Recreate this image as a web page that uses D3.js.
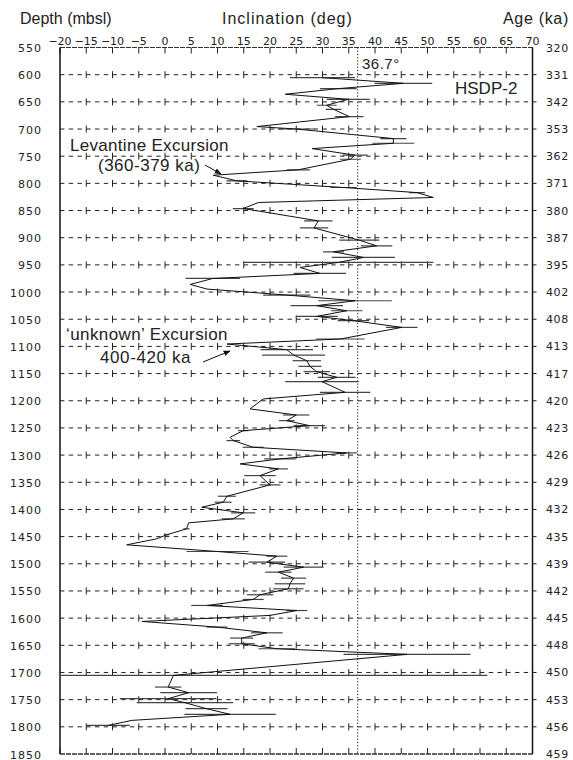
<!DOCTYPE html>
<html>
<head>
<meta charset="utf-8">
<script src="https://cdn.jsdelivr.net/npm/d3@7"></script>
<style>
  html, body { margin: 0; padding: 0; background: #fff; }
  svg { display: block; }
  .num { font-family: "DejaVu Sans", sans-serif; font-size: 11px; fill: #222; }
  .lbl { font-family: "Liberation Sans", Arial, sans-serif; fill: #222; }
</style>
</head>
<body>
<svg id="chart" width="573" height="760"></svg>
<script>
// Depth ticks (mbsl) on the left axis and matching ages (ka) on the right axis
const depthTicks = [550, 600, 650, 700, 750, 800, 850, 900, 950, 1000, 1050, 1100, 1150,
  1200, 1250, 1300, 1350, 1400, 1450, 1500, 1550, 1600, 1650, 1700, 1750, 1800, 1850];
const ageLabels = [320, 331, 342, 353, 362, 371, 380, 387, 395, 402, 408, 413, 417,
  420, 423, 426, 429, 432, 435, 439, 442, 445, 448, 450, 453, 456, 459];
const inclTicks = d3.range(-20, 71, 5);

// Paleomagnetic inclination record, HSDP-2 core
const depth = [605.5, 615.9, 625.7, 636.0, 645.3, 656.3, 663.7, 677.1, 695.5, 700.0,
  717.6, 726.2, 736.0, 748.2, 755.6, 775.0, 785.0, 795.4, 807.6, 817.0,
  826.0, 835.2, 846.3, 869.0, 882.0, 904.5, 914.9, 925.9, 936.3, 945.5,
  954.7, 965.7, 975.0, 986.0, 994.5, 1005.5, 1016.0, 1025.0, 1034.4, 1044.8,
  1052.7, 1065.0, 1086.4, 1095.6, 1106.0, 1115.9, 1126.3, 1136.7, 1146.5, 1156.9,
  1164.9, 1184.5, 1196.7, 1215.0, 1226.2, 1236.6, 1245.8, 1255.0, 1267.2, 1273.3,
  1285.6, 1296.0, 1307.0, 1316.2, 1325.4, 1337.7, 1354.8, 1375.7, 1386.7, 1395.9,
  1406.3, 1417.3, 1424.7, 1435.7, 1446.7, 1454.1, 1465.1, 1477.4, 1486.0, 1497.0,
  1506.2, 1515.4, 1526.4, 1536.8, 1546.0, 1557.0, 1565.6, 1576.7, 1586.0, 1595.0,
  1606.1, 1616.5, 1627.0, 1636.7, 1647.1, 1656.3, 1666.7, 1705.3, 1726.8, 1737.2,
  1748.2, 1755.6, 1766.6, 1777.0, 1788.1, 1797.3];
const inclination = [30.0, 45.4, 33.0, 22.9, 34.9, 30.8, 32.1, 35.1, 17.5, 25.0,
  43.5, 43.5, 28.0, 36.2, 35.3, 25.4, 9.2, 13.7, 34.0, 48.0,
  51.1, 17.8, 14.9, 29.2, 28.4, 37.0, 40.3, 32.1, 37.8, 33.0,
  25.7, 29.5, 9.1, 4.8, 8.0, 23.2, 36.2, 28.9, 34.6, 28.9,
  35.9, 45.1, 33.4, 11.8, 23.2, 24.5, 27.0, 27.6, 28.9, 32.7,
  29.9, 34.3, 18.7, 16.2, 25.0, 23.2, 27.5, 14.9, 12.4, 13.0,
  16.8, 34.6, 21.9, 14.3, 21.6, 18.1, 20.0, 11.8, 11.1, 7.0,
  14.9, 13.0, 4.5, 4.1, 0.3, -1.6, -7.3, 10.0, 21.3, 19.4,
  26.4, 21.6, 24.5, 23.8, 23.5, 18.1, 16.8, 8.0, 25.1, 20.0,
  -4.4, 9.9, 19.4, 14.6, 14.6, 21.3, 46.1, 1.6, 0.6, 4.5,
  0.6, 3.8, 7.9, 12.4, -6.3, -10.8];
// Half-width of the horizontal error bar (deg); 0 where none is drawn
const errorDeg = [6.2, 5.5, 3.5, 0, 4.1, 1.9, 1.5, 2.7, 0, 3.5,
  2.5, 4.0, 0, 2.4, 2.0, 2.2, 0, 2.0, 2.5, 1.5,
  0, 0, 2.0, 2.7, 2.7, 3.8, 3.0, 2.0, 6.0, 18.1,
  0, 5.0, 5.2, 0, 0, 4.5, 7.0, 5.0, 3.0, 4.0,
  3.0, 3.0, 4.6, 0, 5.0, 6.0, 2.7, 2.2, 2.5, 3.6,
  7.0, 4.8, 0, 0, 2.5, 1.5, 3.0, 1.0, 0, 1.3,
  2.0, 2.0, 3.0, 0, 1.8, 3.0, 2.0, 1.7, 1.6, 0,
  2.3, 2.2, 0, 0.6, 0.5, 0, 0, 5.9, 2.0, 3.5,
  3.8, 2.5, 2.4, 2.9, 2.9, 2.5, 2.0, 3.0, 2.0, 0,
  0, 2.0, 3.0, 2.2, 2.5, 3.5, 12.1, 59.8, 2.5, 5.4,
  9.2, 9.2, 4.0, 8.7, 0, 4.1];

const referenceIncl = 36.7;   // axial dipole inclination at the site

const svg = d3.select("#chart");
const pLeft = 60, pRight = 532.5, pTop = 47.5, pBottom = 754;

const x = d3.scaleLinear().domain([-20, 70]).range([pLeft, pRight]);
const y = d3.scaleLinear().domain([550, 1850]).range([pTop, pBottom]);

const defs = svg.append("defs");
defs.append("clipPath").attr("id", "plotClip")
  .append("rect").attr("x", pLeft).attr("y", pTop)
  .attr("width", pRight - pLeft).attr("height", pBottom - pTop);
defs.append("marker").attr("id", "arrow").attr("viewBox", "0 0 10 10")
  .attr("refX", 9).attr("refY", 5).attr("markerWidth", 7).attr("markerHeight", 7)
  .attr("orient", "auto")
  .append("path").attr("d", "M0,1 L10,5 L0,9 Z").attr("fill", "#111");

const plot = svg.append("g");

// Dashed depth gridlines with small ticks every 5 degrees
const inner = depthTicks.slice(1, -1);
const grid = plot.append("g");
grid.selectAll("line.g").data(inner).join("line")
  .attr("x1", pLeft).attr("x2", pRight + 4)
  .attr("y1", d => y(d)).attr("y2", d => y(d))
  .attr("stroke", "#222").attr("stroke-width", 1)
  .attr("stroke-dasharray", "4.4,4.35");
inner.forEach(d => {
  grid.append("g").selectAll("line").data(inclTicks.slice(1, -1)).join("line")
    .attr("x1", v => x(v)).attr("x2", v => x(v))
    .attr("y1", y(d) - 3.5).attr("y2", y(d) + 3.5)
    .attr("stroke", "#222").attr("stroke-width", 1);
});

// Frame: top and bottom lines with inward ticks, solid side axes
plot.append("line").attr("x1", pLeft).attr("x2", pRight).attr("y1", pTop).attr("y2", pTop)
  .attr("stroke", "#333").attr("stroke-width", 1.2).attr("stroke-dasharray", "5,1");
plot.append("line").attr("x1", pLeft).attr("x2", pRight).attr("y1", pBottom).attr("y2", pBottom)
  .attr("stroke", "#333").attr("stroke-width", 1.4).attr("stroke-dasharray", "5,1");
plot.append("g").selectAll("line").data(inclTicks).join("line")
  .attr("x1", v => x(v)).attr("x2", v => x(v))
  .attr("y1", pTop).attr("y2", pTop + 6).attr("stroke", "#222");
plot.append("g").selectAll("line").data(inclTicks).join("line")
  .attr("x1", v => x(v)).attr("x2", v => x(v))
  .attr("y1", pBottom).attr("y2", pBottom - 6).attr("stroke", "#222");
plot.append("line").attr("x1", pLeft).attr("x2", pLeft).attr("y1", pTop).attr("y2", pBottom)
  .attr("stroke", "#111").attr("stroke-width", 1.5);
plot.append("line").attr("x1", pRight).attr("x2", pRight).attr("y1", pTop).attr("y2", pBottom)
  .attr("stroke", "#111").attr("stroke-width", 1.5);

// Reference inclination
plot.append("line").attr("x1", x(referenceIncl)).attr("x2", x(referenceIncl))
  .attr("y1", pTop).attr("y2", pBottom)
  .attr("stroke", "#111").attr("stroke-width", 1).attr("stroke-dasharray", "1.2,2");

// Data: error bars then the inclination curve
const pts = depth.map((d, i) => ({ d, v: inclination[i], e: errorDeg[i] }));
const data = plot.append("g").attr("clip-path", "url(#plotClip)");
data.append("g").selectAll("line").data(pts.filter(p => p.e > 0)).join("line")
  .attr("x1", p => x(p.v - p.e)).attr("x2", p => x(p.v + p.e))
  .attr("y1", p => y(p.d)).attr("y2", p => y(p.d))
  .attr("stroke", "#444").attr("stroke-width", 1.2);
data.append("path").datum(pts)
  .attr("d", d3.line().x(p => x(p.v)).y(p => y(p.d)))
  .attr("fill", "none").attr("stroke", "#111").attr("stroke-width", 1);

// Axis numbers
svg.append("g").selectAll("text").data(inclTicks).join("text").attr("class", "num")
  .attr("x", v => x(v)).attr("y", 44.5).attr("text-anchor", "middle")
  .text(v => v < 0 ? "\u2212" + Math.abs(v) : v);
svg.append("g").selectAll("text").data(depthTicks).join("text").attr("class", "num")
  .attr("x", 42).attr("y", d => y(d) + 4.5).attr("text-anchor", "end")
  .attr("letter-spacing", "1px")
  .text(d => d);
svg.append("g").selectAll("text").data(ageLabels).join("text").attr("class", "num")
  .attr("x", 546).attr("y", (a, i) => y(depthTicks[i]) + 4)
  .attr("letter-spacing", "0.6px")
  .text(a => a);

// Axis titles
svg.append("text").attr("class", "lbl").attr("x", 20).attr("y", 24).attr("font-size", 16).text("Depth (mbsl)");
svg.append("text").attr("class", "lbl").attr("x", 222).attr("y", 24).attr("font-size", 16)
  .attr("letter-spacing", "1px").text("Inclination (deg)");
svg.append("text").attr("class", "lbl").attr("x", 569).attr("y", 24).attr("font-size", 16)
  .attr("letter-spacing", "0.7px").attr("text-anchor", "end").text("Age (ka)");

// Annotations
svg.append("text").attr("class", "lbl").attr("x", 362).attr("y", 69).attr("font-size", 15)
  .attr("letter-spacing", "0.5px").text("36.7°");
svg.append("text").attr("class", "lbl").attr("x", 455).attr("y", 94).attr("font-size", 17).text("HSDP-2");
svg.append("text").attr("class", "lbl").attr("x", 70).attr("y", 151).attr("font-size", 17)
  .attr("letter-spacing", "0.3px").text("Levantine Excursion");
svg.append("text").attr("class", "lbl").attr("x", 98).attr("y", 171).attr("font-size", 17)
  .attr("letter-spacing", "0.5px").text("(360-379 ka)");
svg.append("text").attr("class", "lbl").attr("x", 66).attr("y", 340).attr("font-size", 17)
  .attr("letter-spacing", "0.4px").text("\u2018unknown\u2019 Excursion");
svg.append("text").attr("class", "lbl").attr("x", 100).attr("y", 363).attr("font-size", 17)
  .attr("letter-spacing", "0.6px").text("400-420 ka");

svg.append("line").attr("x1", 205).attr("y1", 165).attr("x2", 221).attr("y2", 174)
  .attr("stroke", "#111").attr("stroke-width", 1).attr("marker-end", "url(#arrow)");
svg.append("line").attr("x1", 203).attr("y1", 362).attr("x2", 230).attr("y2", 351)
  .attr("stroke", "#111").attr("stroke-width", 1).attr("marker-end", "url(#arrow)");
</script>
</body>
</html>
